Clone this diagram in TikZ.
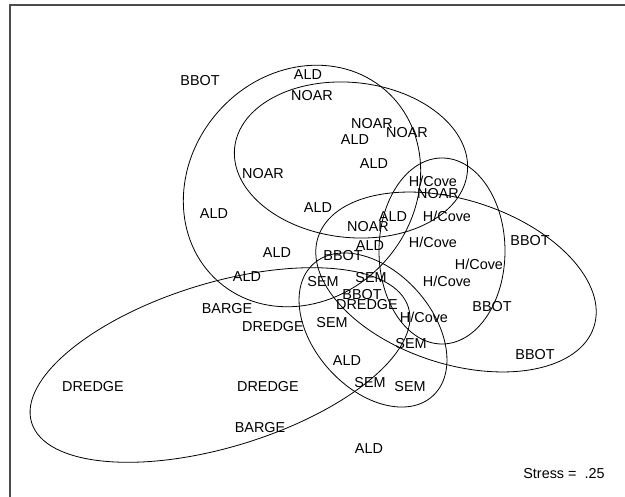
\documentclass[tikz,border=0pt]{standalone}
\usepackage{fontspec}
\setmainfont{Liberation Sans}
\begin{document}
\begin{tikzpicture}[x=1pt,y=-1pt,
  lbl/.style={inner sep=0pt, text height=10.3pt, text depth=0pt,
    font=\fontsize{14.4}{16}\selectfont},
  hull/.style={draw=black, line width=0.8pt},
  frameline/.style={draw=black!70, line width=1.3pt}]
\useasboundingbox (0,0) rectangle (625,497);
% plot frame (left and top edges)
\draw[frameline] (10,497) -- (10,5) -- (625,5);

% group hulls
\draw[hull, rotate around={49:(302,186)}] (302,186) ellipse [x radius=127pt, y radius=112pt];
\draw[hull, rotate around={-6:(351,160)}] (351,160) ellipse [x radius=117pt, y radius=77.5pt];
\draw[hull] (442,251) ellipse [x radius=63pt, y radius=93pt];
\draw[hull, rotate around={-18:(456,282)}] (456,282) ellipse [x radius=145pt, y radius=82pt];
\draw[hull, rotate around={-48:(373,330)}] (373,330) ellipse [x radius=89pt, y radius=59pt];
\draw[hull, rotate around={17:(220,365)}] (220,365) ellipse [x radius=197pt, y radius=82pt];

% sample labels
\node[lbl] (n1)  at (200,80)  {BBOT};
\node[lbl] (n2)  at (308,74)  {ALD};
\node[lbl] (n3)  at (312,95)  {NOAR};
\node[lbl] (n4)  at (372,123) {NOAR};
\node[lbl] (n5)  at (407,132) {NOAR};
\node[lbl] (n6)  at (355,139) {ALD};
\node[lbl] (n7)  at (374,163) {ALD};
\node[lbl] (n8)  at (263,173) {NOAR};
\node[lbl] (n9)  at (214,213) {ALD};
\node[lbl] (n10) at (318,207) {ALD};
\node[lbl] (n11) at (433,181) {H/Cove};
\node[lbl] (n12) at (438,193) {NOAR};
\node[lbl] (n13) at (393,216) {ALD};
\node[lbl] (n14) at (447,216) {H/Cove};
\node[lbl] (n15) at (368,226) {NOAR};
\node[lbl] (n16) at (370,245) {ALD};
\node[lbl] (n17) at (433,242) {H/Cove};
\node[lbl] (n18) at (530,240) {BBOT};
\node[lbl] (n19) at (277,252) {ALD};
\node[lbl] (n20) at (343,255) {BBOT};
\node[lbl] (n21) at (479,264) {H/Cove};
\node[lbl] (n22) at (247,276) {ALD};
\node[lbl] (n23) at (323,281) {SEM};
\node[lbl] (n24) at (371,277) {SEM};
\node[lbl] (n25) at (447,281) {H/Cove};
\node[lbl] (n26) at (227,308) {BARGE};
\node[lbl] (n27) at (362,294) {BBOT};
\node[lbl] (n28) at (367,304) {DREDGE};
\node[lbl] (n29) at (273,326) {DREDGE};
\node[lbl] (n30) at (332,322) {SEM};
\node[lbl] (n31) at (424,317) {H/Cove};
\node[lbl] (n32) at (492,306) {BBOT};
\node[lbl] (n33) at (411,343) {SEM};
\node[lbl] (n34) at (535,354) {BBOT};
\node[lbl] (n35) at (347,360) {ALD};
\node[lbl] (n36) at (93,386)  {DREDGE};
\node[lbl] (n37) at (268,386) {DREDGE};
\node[lbl] (n38) at (370,382) {SEM};
\node[lbl] (n39) at (410,386) {SEM};
\node[lbl] (n40) at (260,427) {BARGE};
\node[lbl] (n41) at (369,448) {ALD};
\node[lbl] (stress) at (564,473) {Stress =\ \ .25};
\end{tikzpicture}
\end{document}
